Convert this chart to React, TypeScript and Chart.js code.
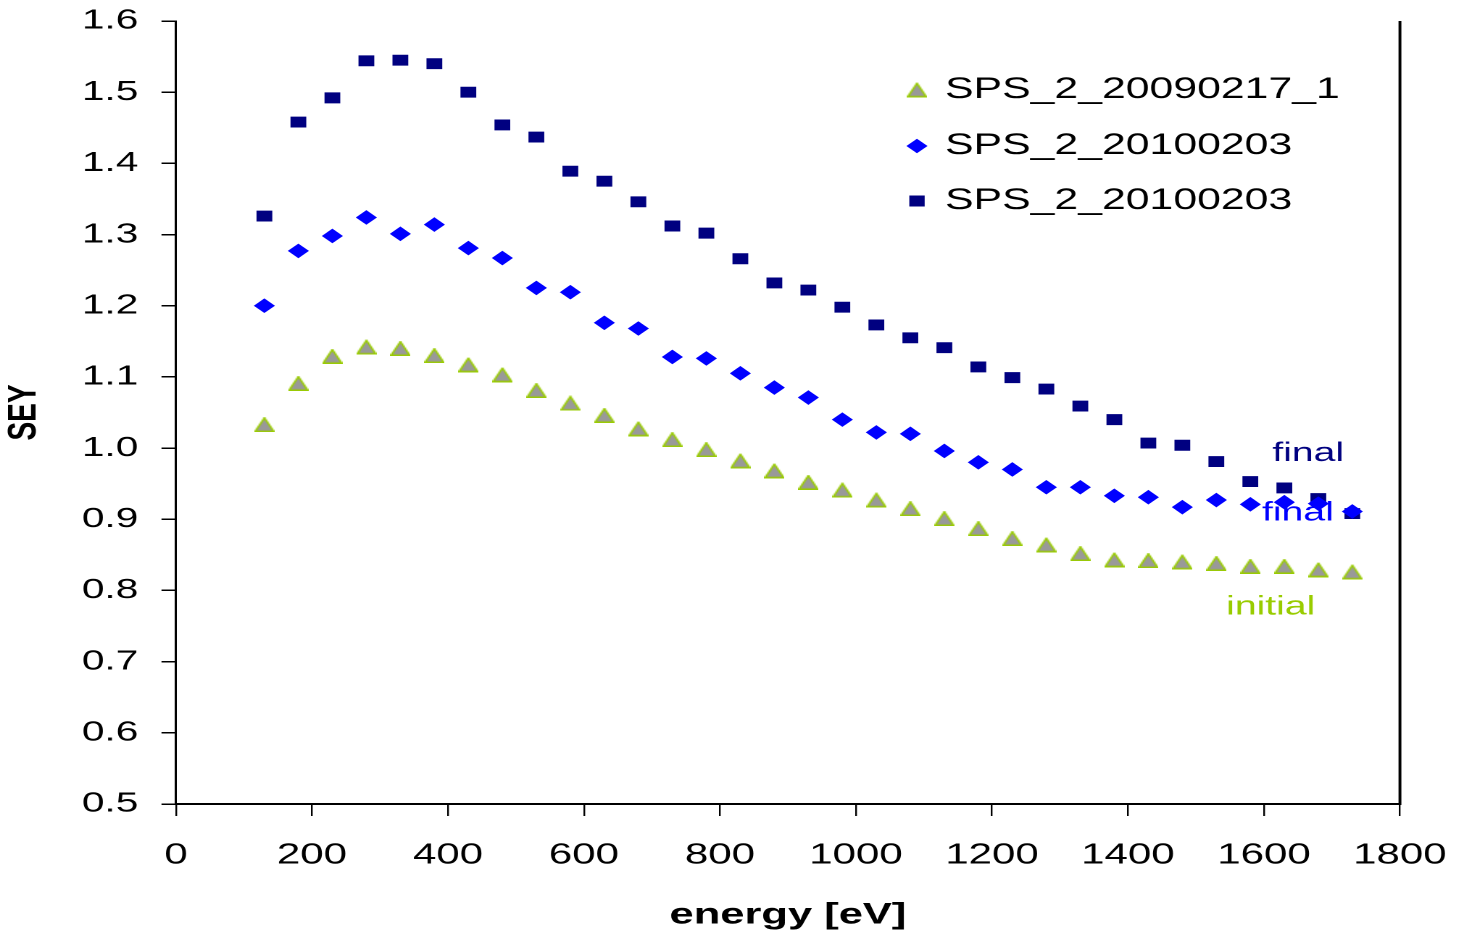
import React, { useEffect, useRef } from 'react';
import { Chart, registerables } from 'chart.js';

Chart.register(...registerables);

// ---------- data ----------
const energy = [130, 180, 230, 280, 330, 380, 430, 480, 530, 580, 630, 680, 730, 780, 830, 880, 930, 980, 1030, 1080, 1130, 1180, 1230, 1280, 1330, 1380, 1430, 1480, 1530, 1580, 1630, 1680, 1730];

const seyInitial = [1.033, 1.091, 1.129, 1.142, 1.140, 1.130, 1.117, 1.103, 1.081, 1.063, 1.046, 1.027, 1.012, 0.998, 0.982, 0.968, 0.952, 0.941, 0.927, 0.915, 0.901, 0.887, 0.873, 0.864, 0.852, 0.843, 0.842, 0.840, 0.838, 0.834, 0.834, 0.829, 0.826];

const seyFinalDiamond = [1.200, 1.277, 1.298, 1.324, 1.301, 1.314, 1.281, 1.267, 1.225, 1.219, 1.176, 1.168, 1.128, 1.126, 1.105, 1.085, 1.071, 1.040, 1.022, 1.020, 0.996, 0.980, 0.970, 0.945, 0.945, 0.933, 0.931, 0.917, 0.927, 0.921, 0.924, 0.922, 0.911];

const seyFinalSquare = [1.326, 1.458, 1.492, 1.544, 1.545, 1.540, 1.500, 1.454, 1.437, 1.389, 1.375, 1.346, 1.312, 1.302, 1.266, 1.232, 1.222, 1.198, 1.173, 1.155, 1.141, 1.114, 1.099, 1.083, 1.059, 1.040, 1.007, 1.004, 0.981, 0.953, 0.944, 0.929, 0.908];

const seriesLabels = ['SPS_2_20090217_1', 'SPS_2_20100203', 'SPS_2_20100203'];

const xTicks = [0, 200, 400, 600, 800, 1000, 1200, 1400, 1600, 1800];
const yTicks = [0.5, 0.6, 0.7, 0.8, 0.9, 1.0, 1.1, 1.2, 1.3, 1.4, 1.5, 1.6];

const noteTexts = ['final', 'final', 'initial'];
const noteX = [1665, 1650, 1610];
const noteY = [0.992, 0.909, 0.777];

// ---------- styling ----------
const W = 1010; // logical canvas width (displayed stretched to 1464)
const H = 938;
const FONT = '"Liberation Sans", Arial, Helvetica, sans-serif';
const C_TRI_FILL = '#999999';
const C_TRI_EDGE = '#99cc00';
const C_DIAMOND = '#0000ff';
const C_SQUARE = '#000080';
const noteColors = [C_SQUARE, C_DIAMOND, C_TRI_EDGE];

function makeTriangle(): HTMLCanvasElement {
  const c = document.createElement('canvas');
  c.width = 14;
  c.height = 15;
  const g = c.getContext('2d')!;
  g.beginPath();
  g.moveTo(7, 0.8);
  g.lineTo(13.3, 14.2);
  g.lineTo(0.7, 14.2);
  g.closePath();
  g.fillStyle = C_TRI_FILL;
  g.fill();
  g.lineWidth = 1.4;
  g.strokeStyle = C_TRI_EDGE;
  g.stroke();
  return c;
}

function drawDiamond(ctx: CanvasRenderingContext2D, x: number, y: number, r: number) {
  ctx.beginPath();
  ctx.moveTo(x, y - r);
  ctx.lineTo(x + r, y);
  ctx.lineTo(x, y + r);
  ctx.lineTo(x - r, y);
  ctx.closePath();
  ctx.fillStyle = C_DIAMOND;
  ctx.fill();
}

export default function App() {
  const ref = useRef<HTMLCanvasElement | null>(null);

  useEffect(() => {
    if (!ref.current) return;
    const tri = makeTriangle();

    const framePlugin = {
      id: 'frameRight',
      afterDraw(chart: any) {
        const { ctx, chartArea } = chart;
        ctx.save();
        ctx.strokeStyle = '#000';
        ctx.lineWidth = 2;
        ctx.beginPath();
        ctx.moveTo(chartArea.right, chartArea.top);
        ctx.lineTo(chartArea.right, chartArea.bottom + 1);
        ctx.stroke();
        ctx.restore();
      },
    };

    const notesPlugin = {
      id: 'notes',
      afterDatasetsDraw(chart: any) {
        const { ctx, scales } = chart;
        ctx.save();
        ctx.font = `27px ${FONT}`;
        ctx.textAlign = 'center';
        ctx.textBaseline = 'middle';
        noteTexts.forEach((t, i) => {
          ctx.fillStyle = noteColors[i];
          ctx.fillText(t, scales.x.getPixelForValue(noteX[i]), scales.y.getPixelForValue(noteY[i]));
        });
        ctx.restore();
      },
    };

    const legendPlugin = {
      id: 'insideLegend',
      afterDraw(chart: any) {
        const ctx = chart.ctx as CanvasRenderingContext2D;
        const mx = 632.6;
        const tx = 652;
        const rows = [90, 146, 201];
        ctx.save();
        chart.data.datasets.forEach((ds: any, i: number) => {
          const y = rows[i];
          if (i === 0) {
            ctx.drawImage(tri, mx - tri.width / 2, y - tri.height / 2);
          } else if (i === 1) {
            drawDiamond(ctx, mx, y, 7.3);
          } else {
            ctx.fillStyle = C_SQUARE;
            ctx.fillRect(mx - 5.3, y - 5.5, 10.6, 11);
          }
          ctx.fillStyle = '#000';
          ctx.font = `29.5px ${FONT}`;
          ctx.textAlign = 'left';
          ctx.textBaseline = 'middle';
          ctx.fillText(ds.label, tx, y);
        });
        ctx.restore();
      },
    };

    const chart = new Chart(ref.current, {
      type: 'scatter',
      data: {
        datasets: [
          {
            label: seriesLabels[0],
            data: energy.map((e, i) => ({ x: e, y: seyInitial[i] })),
            pointStyle: tri as any,
            pointRadius: 7.5,
            backgroundColor: C_TRI_FILL,
            borderColor: C_TRI_EDGE,
            showLine: false,
          },
          {
            label: seriesLabels[1],
            data: energy.map((e, i) => ({ x: e, y: seyFinalDiamond[i] })),
            pointStyle: 'rectRot',
            pointRadius: 7.3,
            pointBorderWidth: 0,
            backgroundColor: C_DIAMOND,
            borderColor: C_DIAMOND,
            showLine: false,
          },
          {
            label: seriesLabels[2],
            data: energy.map((e, i) => ({ x: e, y: seyFinalSquare[i] })),
            pointStyle: 'rect',
            pointRadius: 7.7,
            pointBorderWidth: 0,
            backgroundColor: C_SQUARE,
            borderColor: C_SQUARE,
            showLine: false,
          },
        ],
      },
      options: {
        responsive: false,
        animation: false,
        devicePixelRatio: 2,
        layout: { autoPadding: false, padding: { left: 0, top: 21, right: W - 965.8, bottom: 0 } },
        plugins: {
          legend: { display: false },
          tooltip: { enabled: false },
        },
        scales: {
          x: {
            type: 'linear',
            min: 0,
            max: 1800,
            afterBuildTicks: (s: any) => {
              s.ticks = xTicks.map((v) => ({ value: v }));
            },
            afterFit: (s: any) => {
              s.height = 134;
              s.paddingLeft = 0;
              s.paddingRight = 0;
              s.paddingTop = 0;
              s.paddingBottom = 0;
            },
            ticks: {
              autoSkip: false,
              maxRotation: 0,
              color: '#000',
              padding: 22,
              font: { size: 29, family: FONT },
              callback: (v: any) => String(v),
            },
            grid: {
              drawOnChartArea: false,
              drawTicks: true,
              tickLength: 12,
              color: '#000',
              lineWidth: 1.2,
            },
            border: { display: true, color: '#000', width: 2 },
            title: {
              display: true,
              text: 'energy [eV]',
              color: '#000',
              font: { size: 30, weight: 'bold', family: FONT },
              padding: { top: 0, bottom: 5 },
            },
          },
          y: {
            type: 'linear',
            min: 0.5,
            max: 1.6,
            afterBuildTicks: (s: any) => {
              s.ticks = yTicks.map((v) => ({ value: v }));
            },
            afterFit: (s: any) => {
              s.width = 121.4;
              s.paddingLeft = 0;
              s.paddingRight = 0;
              s.paddingTop = 0;
              s.paddingBottom = 0;
            },
            ticks: {
              color: '#000',
              padding: 16,
              font: { size: 28, family: FONT },
              callback: (v: any) => Number(v).toFixed(1),
            },
            grid: {
              drawOnChartArea: false,
              drawTicks: true,
              tickLength: 10,
              color: '#000',
              lineWidth: 1.5,
            },
            border: { display: true, color: '#000', width: 1.5 },
            title: {
              display: true,
              text: 'SEY',
              color: '#000',
              font: { size: 28, weight: 'bold', family: FONT },
              padding: { top: 0, bottom: 0 },
            },
          },
        },
      },
      plugins: [framePlugin, notesPlugin, legendPlugin],
    } as any);

    return () => chart.destroy();
  }, []);

  return (
    <div style={{ position: 'fixed', left: 0, top: 0, width: 1464, height: 938, background: '#fff' }}>
      <canvas ref={ref} width={W} height={H} style={{ width: '1464px', height: '938px', display: 'block' }} />
    </div>
  );
}
